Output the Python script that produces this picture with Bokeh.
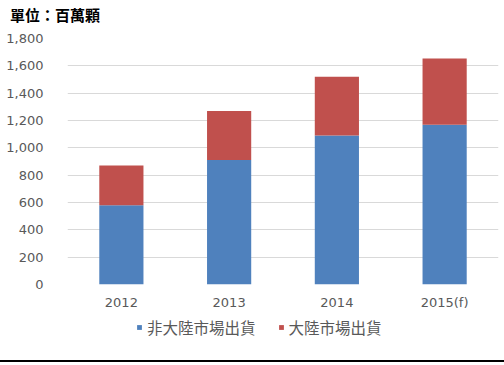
from bokeh.plotting import figure
from bokeh.models import (FactorRange, Range1d, NumeralTickFormatter, FixedTicker,
                          Legend, LegendItem, Div)
from bokeh.layouts import column
from bokeh.embed import file_html
from bokeh.resources import INLINE

years = ["2012", "2013", "2014", "2015(f)"]
non_china = [580, 911, 1090, 1168]
china = [290, 358, 431, 485]
series_names = ["非大陸市場出貨", "大陸市場出貨"]
colors = ["#4F81BD", "#C0504D"]
y_ticks = [0, 200, 400, 600, 800, 1000, 1200, 1400, 1600, 1800]
unit_title = "單位：百萬顆"

CJK = "Noto Sans CJK TC"
LAT = "DejaVu Sans"

title_div = Div(text=unit_title, width=504, height=30, margin=0,
                styles={"font-family": CJK, "font-size": "15px", "font-weight": "bold",
                        "color": "#000000", "line-height": "20px",
                        "padding-top": "5px", "padding-left": "10px"})

p = figure(width=504, height=284, x_range=FactorRange(*years, range_padding=0),
           y_range=Range1d(0, 1800), output_backend="svg", toolbar_location=None,
           min_border_left=67, min_border_right=6, min_border_top=8, min_border_bottom=30,
           margin=0)
p.outline_line_color = None

data = dict(years=years, non_china=non_china, china=china)
r = p.vbar_stack(["non_china", "china"], x="years", width=0.41, source=data,
                 color=colors, line_color=None)

p.xgrid.grid_line_color = None
p.ygrid.grid_line_color = "#d9d9d9"
p.ygrid.grid_line_width = 1

p.yaxis.ticker = FixedTicker(ticks=y_ticks)
p.yaxis.formatter = NumeralTickFormatter(format="0,0")
for ax in (p.xaxis[0], p.yaxis[0]):
    ax.axis_line_color = None
    ax.major_tick_line_color = None
    ax.minor_tick_line_color = None
    ax.major_label_text_font = LAT
    ax.major_label_text_font_size = "13px"
    ax.major_label_text_color = "#595959"
p.yaxis.major_label_standoff = 18
p.xaxis.major_label_standoff = 4

# legend strip below the chart (its frame is aligned with the chart's frame)
lg = figure(width=504, height=46, x_range=Range1d(0, 1), y_range=Range1d(0, 1),
            x_axis_type=None, y_axis_type=None, toolbar_location=None,
            output_backend="svg", min_border=0, margin=0)
lg.outline_line_color = None
lg.xgrid.visible = False
lg.ygrid.visible = False
lg.styles = {"box-shadow": "0 2px 0 0 #000000"}
# key swatches take their colours from renderers kept well outside the visible range
k1 = lg.vbar(x=[-50], top=[-50], bottom=[-60], width=0.1, color=colors[0], line_color=None)
k2 = lg.vbar(x=[-50], top=[-50], bottom=[-60], width=0.1, color=colors[1], line_color=None)
legend = Legend(items=[LegendItem(label=series_names[0], renderers=[k1]),
                       LegendItem(label=series_names[1], renderers=[k2])],
                orientation="horizontal", location=(69, 22),
                label_text_font=CJK, label_text_font_size="15.5px", label_text_color="#595959",
                glyph_width=6, glyph_height=6, label_standoff=5, spacing=22,
                padding=0, margin=0, border_line_color=None, background_fill_alpha=0,
                label_height=16)
lg.add_layout(legend, "center")

open("out.html", "w").write(file_html(column(title_div, p, lg, spacing=0), INLINE))
